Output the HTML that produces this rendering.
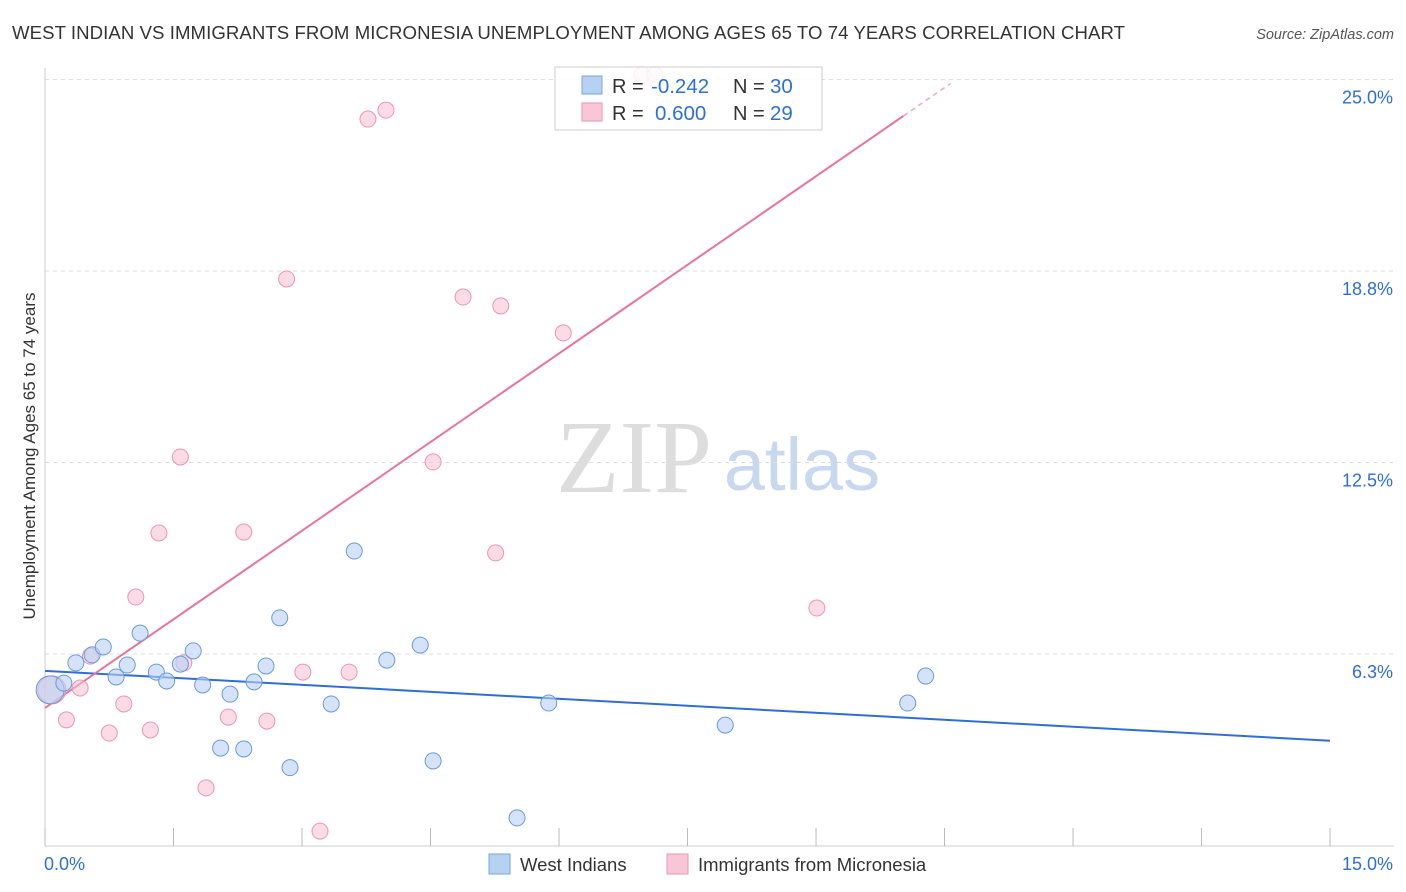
<!DOCTYPE html>
<html><head><meta charset="utf-8"><style>
body{margin:0;background:#fff;font-family:"Liberation Sans",sans-serif;}
#c{position:relative;width:1406px;height:892px;overflow:hidden;}
</style></head><body>
<div id="c">
<svg id="s" width="1406" height="892" xmlns="http://www.w3.org/2000/svg">
<text x="12" y="39" font-size="18.6" fill="#333" textLength="1113">WEST INDIAN VS IMMIGRANTS FROM MICRONESIA UNEMPLOYMENT AMONG AGES 65 TO 74 YEARS CORRELATION CHART</text>
<text x="1394" y="39" font-size="14.5" fill="#555" font-style="italic" text-anchor="end">Source: ZipAtlas.com</text>
<text x="634" y="492" font-size="104" fill="#ddd" font-family="Liberation Serif,serif" text-anchor="middle">ZIP</text>
<text x="802" y="490" font-size="74" fill="#c8d9ef" text-anchor="middle">atlas</text>
<text transform="translate(35,456) rotate(-90)" font-size="17" fill="#333" text-anchor="middle">Unemployment Among Ages 65 to 74 years</text>
<g id="grid"></g>
<g id="lines"></g><g id="pts"></g>
<g>
<rect x="555" y="67" width="267" height="63" fill="#fff" fill-opacity="0.85" stroke="#ccc"/>
<rect x="582" y="76" width="20" height="18" fill="#b7d1f3" stroke="#7aa6e0"/>
<text x="612" y="93" font-size="20" fill="#333">R =</text><text x="651" y="93" font-size="20.5" fill="#2d6fd6">-0.242</text>
<text x="733" y="93" font-size="20" fill="#333">N =</text><text x="770" y="93" font-size="20.5" fill="#2d6fd6">30</text>
<rect x="582" y="103" width="20" height="18" fill="#f8c6d6" stroke="#e996b2"/>
<text x="612" y="120" font-size="20" fill="#333">R =</text><text x="655" y="120" font-size="20.5" fill="#2d6fd6">0.600</text>
<text x="733" y="120" font-size="20" fill="#333">N =</text><text x="770" y="120" font-size="20.5" fill="#2d6fd6">29</text>
</g>
<g>
<rect x="489" y="854" width="21" height="20" fill="#b7d1f3" stroke="#7aa6e0"/>
<text x="520" y="871" font-size="18.5" fill="#333">West Indians</text>
<rect x="667" y="854" width="21" height="20" fill="#f8c6d6" stroke="#e996b2"/>
<text x="698" y="871" font-size="18.5" fill="#333">Immigrants from Micronesia</text>
</g>
</svg></div>
<script>
const yTicks=[25.0,18.8,12.5,6.3];
const yTickVals=[25,18.75,12.5,6.25];
const xTickLabels=["0.0%","15.0%"];
const blueX=[0.06,0.22,0.36,0.55,0.68,0.83,0.96,1.11,1.30,1.42,1.58,1.73,1.84,2.05,2.16,2.32,2.44,2.58,2.74,2.86,3.34,3.61,3.99,4.38,4.53,5.51,5.88,7.94,10.07,10.28];
const blueY=[5.08,5.30,5.96,6.22,6.48,5.50,5.89,6.93,5.66,5.37,5.92,6.35,5.24,3.18,4.94,3.15,5.34,5.86,7.43,2.54,4.62,9.61,6.05,6.54,2.76,0.90,4.65,3.93,4.65,5.53];
const pinkX=[0.08,0.25,0.41,0.53,0.75,0.92,1.06,1.23,1.33,1.58,1.62,1.88,2.14,2.32,2.59,2.82,3.01,3.21,3.55,3.77,3.98,4.53,4.88,5.26,5.32,6.05,6.97,7.12,9.01];
const pinkY=[5.08,4.10,5.14,6.18,3.67,4.62,8.11,3.77,10.20,12.68,5.96,1.88,4.19,10.23,4.06,18.49,5.66,0.47,5.66,23.71,24.00,12.52,17.90,9.55,17.61,16.73,25.15,25.15,7.75];
const blueLine=[0,5.70,15,3.42];
const pinkLine=[0,4.49,10.02,23.81,10.57,24.87];
const NS="http://www.w3.org/2000/svg";
const X=v=>45+v*85.67, Y=v=>845.5-v*30.64;
function mk(t,a,p){const e=document.createElementNS(NS,t);for(const k in a)e.setAttribute(k,a[k]);p.appendChild(e);return e;}
const g=document.getElementById('grid');
yTickVals.forEach((v,i)=>{
 const l=mk('line',{x1:45,x2:1394,y1:Y(v),y2:Y(v),stroke:'#ddd','stroke-dasharray':'4,4'},g);
 
 
 const t=mk('text',{x:1393,y:Y(v)+24,'font-size':18,fill:'#2d6fd6','text-anchor':'end'},g);
 t.textContent=yTicks[i].toFixed(1)+'%';
 
 
});
mk('line',{x1:45,x2:45,y1:68,y2:846,stroke:'#ccc'},g);
mk('line',{x1:45,x2:1394,y1:846,y2:846,stroke:'#ccc'},g);
for(let i=0;i<=10;i++){const l=mk('line',{x1:X(i*1.5),x2:X(i*1.5),y1:828,y2:846,stroke:'#bbb'},g);
 
 }
[[0,"start",44],[15,"end",1393]].forEach((d,i)=>{const t=mk('text',{x:d[2],y:870,'font-size':18,fill:'#2d6fd6','text-anchor':d[1]},g);t.textContent=xTickLabels[i];
 
 });
const L=document.getElementById('lines');
let bl=mk('line',{x1:X(blueLine[0]),y1:Y(blueLine[1]),x2:X(blueLine[2]),y2:Y(blueLine[3]),stroke:'#2d6fd6','stroke-width':2},L);


let pl=mk('line',{x1:X(pinkLine[0]),y1:Y(pinkLine[1]),x2:X(pinkLine[2]),y2:Y(pinkLine[3]),stroke:'#e8739b','stroke-width':2},L);


let pd=mk('line',{x1:X(pinkLine[2]),y1:Y(pinkLine[3]),x2:X(pinkLine[4]),y2:Y(pinkLine[5]),stroke:'#f0a8c0','stroke-width':1.5,'stroke-dasharray':'5,4'},L);


const P=document.getElementById('pts');
pinkX.forEach((x,i)=>{const c=mk('circle',{cx:X(x),cy:Y(pinkY[i]),r:i==0?14:8,fill:'rgba(248,190,210,0.55)',stroke:'#e996b2','stroke-width':1},P);
 
 });
blueX.forEach((x,i)=>{const c=mk('circle',{cx:X(x),cy:Y(blueY[i]),r:i==0?14:8,fill:'rgba(183,209,243,0.6)',stroke:'#6a9ad8','stroke-width':1},P);
 
 });
</script>
</body></html>
